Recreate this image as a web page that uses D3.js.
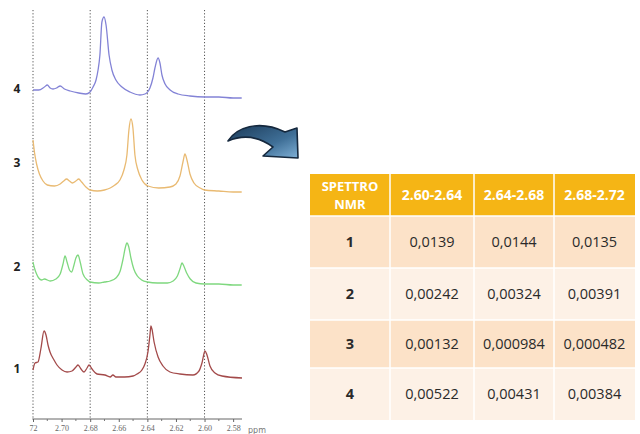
<!DOCTYPE html>
<html><head><meta charset="utf-8">
<script src="https://cdn.jsdelivr.net/npm/d3@7"></script>
<style>html,body{margin:0;padding:0;background:#fff;}svg{display:block;}</style>
</head><body>
<svg id="c" width="640" height="434"></svg>
<script>
// ---- data ----
const spectrumIds = ["1","2","3","4"];
const spectrumColors = ["#a34a4a","#7fd87f","#e9ba72","#8383d6"];
// [ppm, stacked intensity (a.u.)]
const spectrum1 = [[2.7200,50],[2.7186,57],[2.7165,58],[2.7144,72],[2.7123,89],[2.7109,85],[2.7095,75],[2.7081,68],[2.7053,60],[2.7032,55],[2.6997,50],[2.6962,48],[2.6927,49],[2.6899,53],[2.6885,55],[2.6864,51],[2.6843,48],[2.6822,52],[2.6808,55],[2.6787,51],[2.6752,46],[2.6697,45],[2.6660,43],[2.6641,45],[2.6620,43],[2.6560,43],[2.6500,44],[2.6473,46],[2.6438,50],[2.6417,56],[2.6396,68],[2.6382,85],[2.6375,94],[2.6368,91],[2.6353,78],[2.6325,63],[2.6291,54],[2.6242,48],[2.6172,46],[2.6081,45],[2.6039,49],[2.6018,57],[2.5997,69],[2.5983,65],[2.5962,54],[2.5927,47],[2.5878,44],[2.5738,42]];
const spectrum2 = [[2.7200,158],[2.7190,152],[2.7175,146],[2.7160,142],[2.7140,140],[2.7120,141],[2.7080,139],[2.7040,141],[2.7010,146],[2.6990,156],[2.6976,164],[2.6962,158],[2.6945,150],[2.6930,148],[2.6915,154],[2.6900,162],[2.6885,165],[2.6870,158],[2.6850,146],[2.6820,140],[2.6800,138],[2.6740,137],[2.6700,138],[2.6660,139],[2.6620,142],[2.6590,149],[2.6570,161],[2.6555,172],[2.6543,177],[2.6530,173],[2.6515,162],[2.6495,151],[2.6470,144],[2.6440,140],[2.6400,138],[2.6330,137],[2.6260,137],[2.6220,139],[2.6190,144],[2.6170,152],[2.6158,157],[2.6145,154],[2.6125,147],[2.6100,141],[2.6060,137],[2.6000,136],[2.5900,136],[2.5800,135],[2.5740,135]];
const spectrum3 = [[2.7200,280],[2.7190,268],[2.7175,256],[2.7155,246],[2.7130,239],[2.7100,235],[2.7050,234],[2.7010,236],[2.6985,239],[2.6965,241],[2.6945,239],[2.6925,237],[2.6900,239],[2.6880,241],[2.6860,238],[2.6830,233],[2.6800,230],[2.6750,229],[2.6700,230],[2.6660,232],[2.6627,235],[2.6592,240],[2.6564,250],[2.6543,265],[2.6529,290],[2.6515,301],[2.6501,292],[2.6487,265],[2.6466,250],[2.6438,240],[2.6396,234],[2.6320,232],[2.6242,233],[2.6200,236],[2.6172,244],[2.6151,258],[2.6137,266],[2.6123,260],[2.6102,246],[2.6074,237],[2.6031,232],[2.6000,230],[2.5900,229],[2.5800,228],[2.5740,228]];
const spectrum4 = [[2.7200,330],[2.7160,330],[2.7120,333],[2.7100,335],[2.7080,332],[2.7060,331],[2.7035,332],[2.7010,334],[2.6980,331],[2.6940,329],[2.6880,327],[2.6830,326],[2.6801,328],[2.6780,333],[2.6759,340],[2.6745,350],[2.6732,365],[2.6718,398],[2.6703,403],[2.6689,395],[2.6668,365],[2.6648,350],[2.6620,340],[2.6578,333],[2.6522,328],[2.6452,325],[2.6417,326],[2.6382,332],[2.6361,342],[2.6347,352],[2.6325,362],[2.6312,357],[2.6298,345],[2.6276,336],[2.6241,330],[2.6185,326],[2.6102,324],[2.6000,323],[2.5900,323],[2.5800,322],[2.5740,322]];
const spectra = [spectrum1, spectrum2, spectrum3, spectrum4];
const labelLevels = [51, 153, 257, 331];
const guidePpm = [2.72, 2.68, 2.64, 2.60];
const majorTicks = [2.72, 2.70, 2.68, 2.66, 2.64, 2.62, 2.60, 2.58];
const tickLabels = ["72","2.70","2.68","2.66","2.64","2.62","2.60","2.58"];
const minorTicks = [2.71, 2.69, 2.67, 2.65, 2.63, 2.61, 2.59];

const tableHeader = [["SPETTRO","NMR"],["2.60-2.64"],["2.64-2.68"],["2.68-2.72"]];
const tableRows = ["1","2","3","4"];
const range1 = [0.0139, 0.00242, 0.00132, 0.00522];
const range2 = [0.0144, 0.00324, 0.000984, 0.00431];
const range3 = [0.0135, 0.00391, 0.000482, 0.00384];

// ---- drawing ----
const svg = d3.select("#c");
const x = d3.scaleLinear().domain([2.72, 2.5738]).range([33, 242]);
const y = d3.scaleLinear().domain([0, 410]).range([420, 10]);

// guides
svg.append("g").selectAll("line").data(guidePpm).join("line")
  .attr("x1", d => x(d)).attr("x2", d => x(d))
  .attr("y1", 10).attr("y2", 419)
  .attr("stroke", "#555").attr("stroke-width", 1).attr("stroke-dasharray", "1.2,2");

// spectra
const line = d3.line().x(d => x(d[0])).y(d => y(d[1])).curve(d3.curveMonotoneX);
svg.append("g").selectAll("path").data(spectra).join("path")
  .attr("d", line).attr("fill", "none")
  .attr("stroke", (d, i) => spectrumColors[i]).attr("stroke-width", 1.3);

// spectrum labels
svg.append("g").selectAll("text").data(spectrumIds).join("text")
  .attr("x", 17).attr("y", (d, i) => y(labelLevels[i]) + 4)
  .attr("text-anchor", "middle")
  .style("font", "bold 12px 'Open Sans', sans-serif").attr("fill", "#222")
  .text(d => d);

// axis
const axis = d3.axisBottom(x).tickValues(majorTicks)
  .tickFormat((d, i) => tickLabels[i]).tickSize(3).tickPadding(3);
const ax = svg.append("g").attr("transform", "translate(0,419)").call(axis);
ax.select(".domain").attr("stroke", "#666").attr("d", `M${x(2.7205)},0H${x(2.5738)}`);
ax.selectAll(".tick line").attr("stroke", "#666");
ax.selectAll(".tick text").style("font", "8px 'Liberation Serif', serif").attr("fill", "#666");
svg.append("g").attr("transform", "translate(0,419)").selectAll("line").data(minorTicks).join("line")
  .attr("x1", d => x(d)).attr("x2", d => x(d)).attr("y1", 0).attr("y2", 2).attr("stroke", "#777");
svg.append("text").attr("x", 248).attr("y", 433).text("ppm")
  .style("font", "8px 'DejaVu Sans', sans-serif").attr("fill", "#777");

// arrow (decorative)
const defs = svg.append("defs");
const g = defs.append("linearGradient").attr("id", "ag").attr("x1", "0").attr("y1", "0").attr("x2", "1").attr("y2", "1");
g.append("stop").attr("offset", "0").attr("stop-color", "#1b3a58");
g.append("stop").attr("offset", "0.6").attr("stop-color", "#3f6f97");
g.append("stop").attr("offset", "1").attr("stop-color", "#7fb0d6");
svg.append("path")
  .attr("d", "M228,141 C236,128 258,119 285,132 L297,128 L298,158 L263,156 L273,147 C258,136 242,135 228,141 Z")
  .attr("fill", "url(#ag)").attr("stroke", "#15283d").attr("stroke-width", 1.6).attr("stroke-linejoin", "round");

// table
const colX = [310, 390, 474, 554, 635];
const rowY = [174, 216, 268, 320, 368, 420];
const rowFill = ["#fce2c8", "#fdf1e6", "#fce2c8", "#fdf1e6"];
const tbl = svg.append("g");
const values = tableRows.map((r, i) => [r, range1[i], range2[i], range3[i]]);
const fmt = v => String(v).replace(".", ",");

// header
tbl.selectAll("rect.h").data(tableHeader).join("rect").attr("class", "h")
  .attr("x", (d, i) => colX[i]).attr("y", rowY[0])
  .attr("width", (d, i) => colX[i + 1] - colX[i]).attr("height", rowY[1] - rowY[0])
  .attr("fill", "#f5b515");
tableHeader.forEach((lines, i) => {
  const cx = (colX[i] + colX[i + 1]) / 2;
  const cy = (rowY[0] + rowY[1]) / 2;
  const fs = lines.length > 1 ? 13 : 14;
  lines.forEach((t, k) => {
    tbl.append("text").attr("x", cx).attr("y", cy + 5 + (k - (lines.length - 1) / 2) * 18.5)
      .attr("text-anchor", "middle").attr("fill", "#fff")
      .style("font", `bold ${fs}px 'Open Sans', sans-serif`).text(t);
  });
});
// body
values.forEach((row, r) => {
  row.forEach((v, c) => {
    tbl.append("rect").attr("x", colX[c]).attr("y", rowY[r + 1])
      .attr("width", colX[c + 1] - colX[c]).attr("height", rowY[r + 2] - rowY[r + 1])
      .attr("fill", rowFill[r]);
    tbl.append("text").attr("x", (colX[c] + colX[c + 1]) / 2)
      .attr("y", (rowY[r + 1] + rowY[r + 2]) / 2 + 5)
      .attr("text-anchor", "middle").attr("fill", "#2a2a2a")
      .style("font", (c === 0 ? "bold " : "") + "14.5px 'Open Sans', sans-serif")
      .text(c === 0 ? v : fmt(v));
  });
});
// white grid lines
tbl.selectAll("line.v").data(colX.slice(1, -1)).join("line").attr("class", "v")
  .attr("x1", d => d).attr("x2", d => d).attr("y1", rowY[0]).attr("y2", rowY[5])
  .attr("stroke", "#fff").attr("stroke-width", 1.5);
tbl.selectAll("line.hz").data(rowY.slice(1, -1)).join("line").attr("class", "hz")
  .attr("x1", colX[0]).attr("x2", colX[4]).attr("y1", d => d).attr("y2", d => d)
  .attr("stroke", "#fff").attr("stroke-width", 1.5);
</script>
</body></html>
